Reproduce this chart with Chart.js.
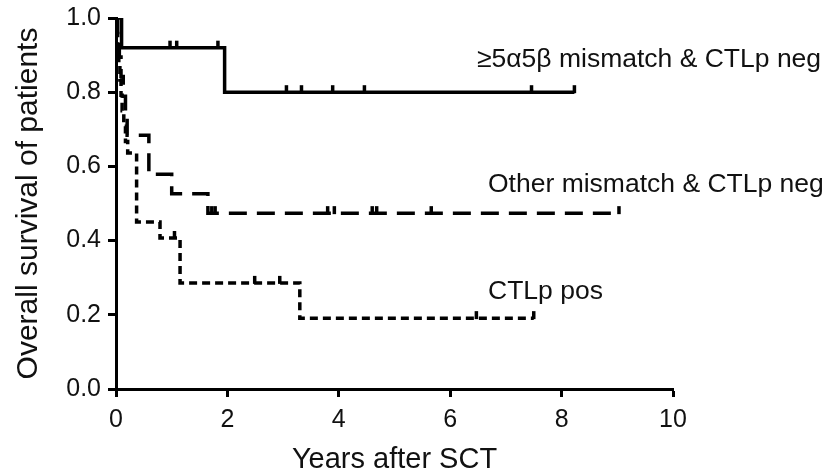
<!DOCTYPE html>
<html>
<head>
<meta charset="utf-8">
<script src="https://cdn.jsdelivr.net/npm/chart.js@4"></script>
<style>
  html, body { margin: 0; padding: 0; background: #fff; }
  canvas { display: block; }
</style>
</head>
<body>
<canvas id="kmChart" width="835" height="474"></canvas>
<script>
// Kaplan-Meier curves, values
const groupNames = ["\u22655\u03b15\u03b2 mismatch & CTLp neg", "Other mismatch & CTLp neg", "CTLp pos"];

// >=5a5b mismatch & CTLp neg
const solidTimes = [0, 0.1, 1.95, 8.23];
const solidSurv = [1.0, 0.92, 0.8, 0.8];
const solidCensor = [0.97, 1.09, 1.83, 3.06, 3.33, 3.89, 4.46, 7.46, 8.23];

// Other mismatch & CTLp neg
const otherTimes = [0, 0.03, 0.06, 0.09, 0.13, 0.17, 0.2, 0.59, 1.0, 1.65, 9.03];
const otherSurv = [1.0, 0.947, 0.895, 0.842, 0.789, 0.737, 0.684, 0.579, 0.526, 0.474, 0.474];
const otherCensor = [1.72, 1.78, 3.8, 3.92, 4.6, 4.68, 5.66, 9.03];

// CTLp pos
const posTimes = [0, 0.01, 0.03, 0.05, 0.07, 0.09, 0.11, 0.14, 0.17, 0.21, 0.37, 0.79, 1.15, 3.3, 7.5];
const posSurv = [1.0, 0.958, 0.917, 0.875, 0.833, 0.792, 0.75, 0.708, 0.667, 0.636, 0.45, 0.407, 0.286, 0.191, 0.191];
const posCensor = [1.05, 2.49, 2.94, 6.47, 7.5];

const xTicks = [0, 2, 4, 6, 8, 10];
const yTicks = [0, 0.2, 0.4, 0.6, 0.8, 1.0];

const toPoints = (times, surv) => times.map((t, i) => ({ x: t, y: surv[i] }));

// survival value of a step curve at time t
function survAt(times, surv, t) {
  let s = surv[0];
  for (let i = 0; i < times.length; i++) {
    if (times[i] <= t) s = surv[i];
  }
  return s;
}

const curves = [
  { times: solidTimes, surv: solidSurv, censor: solidCensor },
  { times: otherTimes, surv: otherSurv, censor: otherCensor },
  { times: posTimes, surv: posSurv, censor: posCensor },
];

// censor ticks and curve labels
const kmExtras = {
  id: "kmExtras",
  afterDatasetsDraw(chart) {
    const { ctx, scales } = chart;
    ctx.save();
    ctx.strokeStyle = "#000";
    ctx.lineWidth = 3.5;
    curves.forEach((c) => {
      c.censor.forEach((t) => {
        const px = scales.x.getPixelForValue(t);
        const py = scales.y.getPixelForValue(survAt(c.times, c.surv, t));
        ctx.beginPath();
        ctx.moveTo(px, py + 1);
        ctx.lineTo(px, py - 7);
        ctx.stroke();
      });
    });

    ctx.fillStyle = "#111";
    ctx.font = "26.5px 'Liberation Sans', Arial, sans-serif";
    ctx.textBaseline = "middle";
    ctx.textAlign = "left";
    ctx.fillText(groupNames[0], 477, 60);
    ctx.fillText(groupNames[1], 488, 185);
    ctx.fillText(groupNames[2], 488, 292);
    ctx.restore();
  },
};

Chart.defaults.font.family = "'Liberation Sans', Arial, sans-serif";
Chart.defaults.color = "#111";

new Chart(document.getElementById("kmChart"), {
  type: "line",
  data: {
    datasets: [
      {
        label: groupNames[0],
        data: toPoints(solidTimes, solidSurv),
        borderColor: "#000",
        borderWidth: 3.5,
        stepped: "before",
        pointRadius: 0,
      },
      {
        label: groupNames[1],
        data: toPoints(otherTimes, otherSurv),
        borderColor: "#000",
        borderWidth: 3.5,
        borderDash: [18, 10],
        stepped: "before",
        pointRadius: 0,
      },
      {
        label: groupNames[2],
        data: toPoints(posTimes, posSurv),
        borderColor: "#000",
        borderWidth: 3.5,
        borderDash: [8, 5],
        stepped: "before",
        pointRadius: 0,
      },
    ],
  },
  options: {
    responsive: false,
    animation: false,
    layout: { padding: { top: 18, right: 162, left: 0, bottom: 0 } },
    plugins: {
      legend: { display: false },
      tooltip: { enabled: false },
    },
    scales: {
      x: {
        type: "linear",
        min: 0,
        max: 10,
        afterBuildTicks: (axis) => {
          axis.ticks = xTicks.map((v) => ({ value: v }));
        },
        afterFit: (axis) => {
          axis.height = 85;
        },
        border: { color: "#000", width: 3 },
        grid: { drawOnChartArea: false, tickLength: 8, tickWidth: 3, tickColor: "#000" },
        ticks: { font: { size: 25 }, color: "#111", padding: 8, maxRotation: 0 },
        title: {
          display: true,
          text: "Years after SCT",
          font: { size: 29, lineHeight: 1 },
          color: "#111",
          padding: { top: 0, bottom: 0 },
        },
      },
      y: {
        min: 0,
        max: 1,
        afterBuildTicks: (axis) => {
          axis.ticks = yTicks.map((v) => ({ value: v }));
        },
        afterFit: (axis) => {
          axis.width = 116;
          axis.paddingTop = 0;
          axis.paddingBottom = 0;
        },
        border: { color: "#000", width: 3 },
        grid: { drawOnChartArea: false, tickLength: 8, tickWidth: 3, tickColor: "#000" },
        ticks: {
          font: { size: 25 },
          color: "#111",
          padding: 7,
          callback: (v) => Number(v).toFixed(1),
        },
        title: {
          display: true,
          text: "Overall survival of patients",
          font: { size: 30, lineHeight: 1 },
          color: "#111",
          padding: { top: 14, bottom: 0 },
        },
      },
    },
  },
  plugins: [kmExtras],
});
</script>
</body>
</html>
